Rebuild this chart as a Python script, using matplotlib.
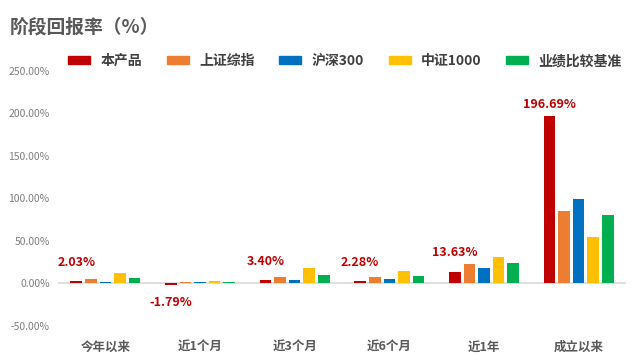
import numpy as np
import matplotlib
matplotlib.use("Agg")
import matplotlib.pyplot as plt
from matplotlib.patches import Patch

plt.rcParams['font.family'] = ['Noto Sans CJK SC', 'DejaVu Sans']

# data (percent)
categories = ["今年以来", "近1个月", "近3个月", "近6个月", "近1年", "成立以来"]
series_names = ["本产品", "上证综指", "沪深300", "中证1000", "业绩比较基准"]
product = [2.03, -1.79, 3.40, 2.28, 13.63, 196.69]
sse = [4.7, 1.2, 7.0, 7.0, 22.4, 84.7]
csi300 = [1.2, 1.0, 3.5, 4.7, 17.6, 98.8]
csi1000 = [11.8, 2.3, 17.6, 14.0, 31.0, 54.0]
benchmark = [5.9, 1.0, 9.8, 8.6, 23.5, 80.0]
yticks = [-50, 0, 50, 100, 150, 200, 250]

colors = ["#C00000", "#ED7D31", "#0070C0", "#FFC000", "#00B050"]
series = [product, sse, csi300, csi1000, benchmark]

fig = plt.figure(figsize=(6.4, 3.61), dpi=100)
ax = fig.add_axes([58/640, 1-325.5/361, 568/640, (325.5-71)/361])

x = np.arange(len(categories))
pitch = 0.154
width = 0.122
for i, (vals, c) in enumerate(zip(series, colors)):
	ax.bar(x + (i-2)*pitch, vals, width, color=c, zorder=2)

# value labels for the product bars
for xi, v in zip(x, product):
	xpos = xi - 2*pitch
	if v >= 0:
		off = 4 if v > 150 else 9
		ax.annotate("{0:.2f}%".format(v), (xpos, v), xytext=(0, off), textcoords="offset points",
			ha="center", va="bottom", color="#C00000", fontsize=9, fontweight="bold")
	else:
		ax.annotate("{0:.2f}%".format(v), (xpos, v), xytext=(0, -8), textcoords="offset points",
			ha="center", va="top", color="#C00000", fontsize=9, fontweight="bold")

ax.axhline(0, color="#D9D9D9", lw=1.2, zorder=1)
ax.set_xlim(-0.5, len(categories)-0.5)
ax.set_ylim(-50, 250)
ax.set_yticks(yticks)
ax.set_yticklabels(["{0:.2f}%".format(t) for t in yticks], fontsize=7.5, color="#7F7F7F")
ax.set_xticks(x)
ax.set_xticklabels(categories, fontsize=9, fontweight="bold", color="#595959")
ax.tick_params(axis="y", length=0, pad=6)
ax.tick_params(axis="x", length=0, pad=11)
for s in ax.spines.values():
	s.set_visible(False)

fig.text(10/640, 1-27/361, "阶段回报率（%）", fontsize=13.5, fontweight="bold", color="#595959", va="center", ha="left")

handles = [Patch(color=c, label=n) for c, n in zip(colors, series_names)]
leg = fig.legend(handles=handles, loc="center", bbox_to_anchor=(345/640, 1-61/361), ncol=5, frameon=False,
	handlelength=1.58, handleheight=0.5, handletextpad=0.72, columnspacing=1.8,
	prop={"size": 10, "weight": "bold"})
for t in leg.get_texts():
	t.set_color("#404040")

fig.savefig("out.png", dpi=100)
